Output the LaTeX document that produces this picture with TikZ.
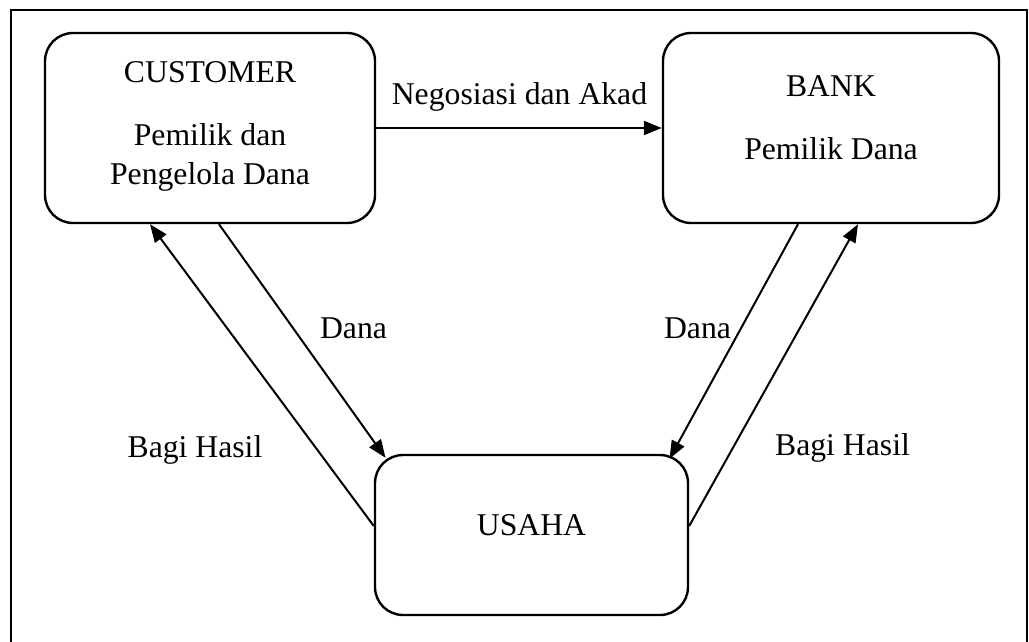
\documentclass[tikz,border=0pt]{standalone}
\usepackage{fontspec}
\setmainfont{Liberation Serif}
\usetikzlibrary{arrows.meta}
\begin{document}
\begin{tikzpicture}[x=1pt,y=-1pt,
  box/.style={draw, line width=2.4pt, rounded corners=28pt, inner sep=0pt},
  lbl/.style={anchor=base, inner sep=0pt, font=\fontsize{31.7}{38}\selectfont},
  arr/.style={line width=2pt, -{Triangle[length=18pt,width=14pt]}},
  frame/.style={line width=2.6pt}]
\useasboundingbox (0,0) rectangle (1029,642);
% outer frame (bottom edge outside the picture)
\coordinate (fbl) at (11,645);
\coordinate (ftl) at (11,10);
\coordinate (ftr) at (1027,10);
\coordinate (fbr) at (1027,645);
\draw[frame] (fbl) -- (ftl) -- (ftr) -- (fbr);
% boxes
\node[box, minimum width=330pt, minimum height=190pt] (cust) at (210,128) {};
\node[box, minimum width=336pt, minimum height=190pt] (bank) at (831,128) {};
\node[box, minimum width=313pt, minimum height=160pt] (usaha) at (531.5,535) {};
% box texts
\node[lbl] (custT) at (210,83) {CUSTOMER};
\node[lbl] (custA) at (210,146) {Pemilik dan};
\node[lbl] (custB) at (210,184) {Pengelola Dana};
\node[lbl] (bankT) at (831,97) {BANK};
\node[lbl] (bankA) at (831,159) {Pemilik Dana};
\node[lbl] (usahaT) at (531.5,535) {USAHA};
% connectors
\draw[arr] (cust.east) -- (bank.west);
\draw[arr] ([yshift=9pt]usaha.west) -- ([xshift=-60pt]cust.south);
\draw[arr] ([xshift=9pt]cust.south) -- ([xshift=-146pt,yshift=-4pt]usaha.north);
\draw[arr] ([xshift=-33pt]bank.south) -- ([xshift=138pt,yshift=-5pt]usaha.north);
\draw[arr] ([yshift=9pt]usaha.east) -- ([xshift=27pt]bank.south);
% edge labels
\node[lbl] (neg) at (519.5,105) {Negosiasi dan Akad};
\node[lbl] (danaL) at (353.5,338) {Dana};
\node[lbl] (danaR) at (697.5,338) {Dana};
\node[lbl] (bagiL) at (195,457) {Bagi Hasil};
\node[lbl] (bagiR) at (842.5,455) {Bagi Hasil};
\end{tikzpicture}
\end{document}
